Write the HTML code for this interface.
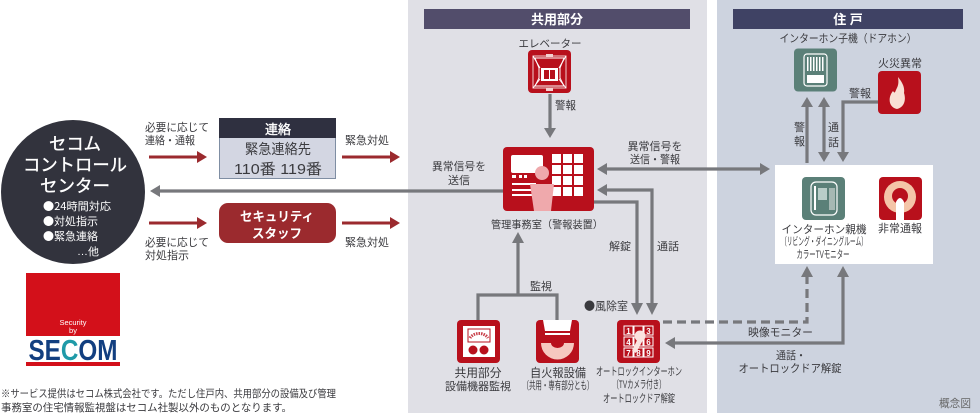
<!DOCTYPE html>
<html lang="ja"><head><meta charset="utf-8"><style>
html,body{margin:0;padding:0;background:#fff;width:980px;height:413px;overflow:hidden}
svg{display:block}
text{font-family:"Liberation Sans","Noto Sans CJK JP",sans-serif;fill:#3a3a3e}
.j{font-family:"Noto Sans CJK JP",sans-serif}
.c{text-anchor:middle}
.w{fill:#fff}
.b{stroke:#fff;stroke-width:.35}
</style></head><body>
<svg width="980" height="413" viewBox="0 0 980 413" xmlns="http://www.w3.org/2000/svg">
<rect x="408" y="0" width="299" height="413" fill="#e0e0e6"/>
<rect x="717" y="0" width="263" height="413" fill="#cdd3df"/>
<rect x="424" y="9" width="266" height="20" fill="#524d6b"/>
<rect x="733" y="9" width="230" height="20" fill="#3f4264"/>
<text class="c w" x="557" y="24" font-size="13" font-weight="700" textLength="52" lengthAdjust="spacingAndGlyphs">共用部分</text>
<text class="c w" x="848" y="24" font-size="13" font-weight="700">住 戸</text>

<!-- Left circle -->
<circle cx="73" cy="192" r="72" fill="#32333d"/>
<text class="c w b" x="75" y="150" font-size="17.500" textLength="52" lengthAdjust="spacingAndGlyphs">セコム</text>
<text class="c w b" x="75" y="171" font-size="17.500" textLength="104" lengthAdjust="spacingAndGlyphs">コントロール</text>
<text class="c w b" x="75" y="192" font-size="17.500" textLength="70" lengthAdjust="spacingAndGlyphs">センター</text>
<g font-size="11">
<text class="w j" x="43" y="210" textLength="68" lengthAdjust="spacingAndGlyphs">●24時間対応</text>
<text class="w j" x="43" y="225" textLength="55" lengthAdjust="spacingAndGlyphs">●対処指示</text>
<text class="w j" x="43" y="240" textLength="55" lengthAdjust="spacingAndGlyphs">●緊急連絡</text>
<text class="w" x="77" y="255" font-size="10.500" textLength="22" lengthAdjust="spacingAndGlyphs">…他</text>
</g>

<!-- 連絡 -->
<rect x="219.500" y="118.500" width="116" height="60" fill="#d3d6e2" stroke="#7f8ea3"/>
<rect x="219" y="118" width="117" height="20" fill="#2f3040"/>
<text class="c w b" x="278" y="134" font-size="13" textLength="26" lengthAdjust="spacingAndGlyphs">連絡</text>
<text class="c" x="278" y="154" font-size="14" textLength="66" lengthAdjust="spacingAndGlyphs">緊急連絡先</text>
<text class="c" x="278" y="174" font-size="15" textLength="88" lengthAdjust="spacingAndGlyphs">110番 119番</text>
<!-- Security staff -->
<rect x="219" y="203" width="117" height="40" rx="9" fill="#9b2a2e"/>
<text class="c w" x="277" y="221" font-size="13" font-weight="700" textLength="74" lengthAdjust="spacingAndGlyphs">セキュリティ</text>
<text class="c w" x="277" y="238" font-size="13" font-weight="700" textLength="50" lengthAdjust="spacingAndGlyphs">スタッフ</text>

<!-- labels -->
<g font-size="11">
<text x="145" y="131" textLength="64" lengthAdjust="spacingAndGlyphs">必要に応じて</text>
<text x="145" y="144" textLength="50" lengthAdjust="spacingAndGlyphs">連絡・通報</text>
<text x="345" y="144" textLength="44" lengthAdjust="spacingAndGlyphs">緊急対処</text>
<text x="145" y="246" textLength="64" lengthAdjust="spacingAndGlyphs">必要に応じて</text>
<text x="145" y="259" textLength="44" lengthAdjust="spacingAndGlyphs">対処指示</text>
<text x="345" y="246" textLength="44" lengthAdjust="spacingAndGlyphs">緊急対処</text>
<text class="c" x="459" y="170" textLength="54" lengthAdjust="spacingAndGlyphs">異常信号を</text>
<text class="c" x="459" y="184" textLength="22" lengthAdjust="spacingAndGlyphs">送信</text>
<text class="c" x="655" y="150" textLength="55" lengthAdjust="spacingAndGlyphs">異常信号を</text>
<text class="c" x="655" y="163" textLength="50" lengthAdjust="spacingAndGlyphs">送信・警報</text>
<text x="555" y="109" textLength="21" lengthAdjust="spacingAndGlyphs">警報</text>
<text x="609" y="250" textLength="22" lengthAdjust="spacingAndGlyphs">解錠</text>
<text x="657" y="250" textLength="22" lengthAdjust="spacingAndGlyphs">通話</text>
<text x="530" y="290" textLength="22" lengthAdjust="spacingAndGlyphs">監視</text>
<text class="j" x="584" y="310" font-size="11.500" textLength="44" lengthAdjust="spacingAndGlyphs">●風除室</text>
<text x="849" y="97" textLength="22" lengthAdjust="spacingAndGlyphs">警報</text>
<text x="748" y="336" font-size="11" textLength="65" lengthAdjust="spacingAndGlyphs">映像モニター</text>
<text class="c" x="791" y="359" textLength="30" lengthAdjust="spacingAndGlyphs">通話・</text>
<text class="c" x="790" y="372" textLength="103" lengthAdjust="spacingAndGlyphs">オートロックドア解錠</text>
<text x="939" y="407" textLength="32" lengthAdjust="spacingAndGlyphs" style="fill:#666">概念図</text>
</g>

<!-- red arrows -->
<g fill="none" stroke="#9b2a2e" stroke-width="3">
<path d="M149 157H198M342 157H391M149 223H198M342 223H391"/>
</g>
<g fill="#9b2a2e">
<path d="M197 151L207 157L197 163ZM390 151L400 157L390 163ZM197 217L207 223L197 229ZM390 217L400 223L390 229Z"/>
</g>

<!-- gray connectors -->
<g fill="none" stroke="#77787c" stroke-width="3.200">
<path d="M158 191H503"/>
<path d="M550 94V130"/>
<path d="M605 169H762"/>
<path d="M605 190H652V305"/>
<path d="M594 202H637V305"/>
<path d="M518 242V295M478 320V295H557V320"/>
<path d="M673 343H843V276"/>
<path d="M807 163V105"/>
<path d="M824 105V154"/>
<path d="M878 102H843V154"/>
<path d="M663 322H807V276" stroke-dasharray="9 5"/>
</g>
<g fill="#77787c">
<path d="M150 191L160 185V197Z"/>
<path d="M544 128H556L550 138Z"/>
<path d="M597 169L607 163V175ZM770 169L760 163V175Z"/>
<path d="M597 190L607 184V196Z"/>
<path d="M631 303H643L637 315ZM646 303H658L652 315Z"/>
<path d="M518 232L524 243H512Z"/>
<path d="M665 343L675 337V349Z"/>
<path d="M807 266L813 277H801ZM843 266L849 277H837Z"/>
<path d="M807 97L813 107H801ZM824 97L830 107H818ZM824 162L830 152H818ZM843 162L849 152H837Z"/>
</g>

<!-- Elevator -->
<text class="c" x="550" y="47" font-size="10.500" textLength="63" lengthAdjust="spacingAndGlyphs">エレベーター</text>
<rect x="528" y="50" width="43" height="43" rx="4" fill="#b8101c"/>
<g fill="none" stroke="#fff" stroke-width="1">
<path d="M535 58H564L560 68V78L564 86H535L539 78V68Z"/>
<path d="M533 56H566V88H533Z" stroke="#f0d0d0"/>
<path d="M533 56L540 68M566 56L559 68M533 88L540 79M566 88L559 79"/>
</g>
<rect x="541" y="68" width="17" height="13" fill="#fff"/>
<rect x="544" y="70" width="5" height="9" fill="#b8101c"/><rect x="550" y="70" width="5" height="9" fill="#b8101c"/>
<rect x="546" y="54" width="7" height="3" fill="#f3d0d0"/><rect x="546" y="88" width="7" height="3" fill="#f3d0d0"/>

<!-- Management -->
<rect x="503" y="147" width="91" height="64" rx="4" fill="#b8101c"/>
<rect x="511" y="155" width="32" height="18" rx="2" fill="#fff"/>
<g fill="#fff">
<rect x="552" y="154" width="9" height="9"/><rect x="563" y="154" width="9" height="9"/><rect x="574" y="154" width="9" height="9"/>
<rect x="552" y="165" width="9" height="9"/><rect x="563" y="165" width="9" height="9"/><rect x="574" y="165" width="9" height="9"/>
<rect x="552" y="176" width="9" height="9"/><rect x="563" y="176" width="9" height="9"/><rect x="574" y="176" width="9" height="9"/>
<rect x="552" y="187" width="9" height="9"/><rect x="563" y="187" width="9" height="9"/><rect x="574" y="187" width="9" height="9"/>
<rect x="512" y="175" width="4" height="3"/><rect x="519" y="175" width="3" height="3"/><rect x="524" y="175" width="3" height="3"/>
<rect x="512" y="183" width="24" height="2"/><rect x="512" y="189" width="22" height="2"/><rect x="512" y="194" width="22" height="2"/>
</g>
<circle cx="542" cy="173" r="7" fill="#efa9ac"/>
<path d="M530 184H554L551 211H534Z" fill="#efa9ac"/>
<text class="c" x="547" y="228" font-size="10.500" textLength="112" lengthAdjust="spacingAndGlyphs">管理事務室（警報装置）</text>

<!-- Monitor -->
<rect x="457" y="320" width="43" height="43" rx="4" fill="#b8101c"/>
<rect x="463" y="326" width="32" height="31" fill="#fff"/>
<rect x="468" y="329" width="22" height="13" fill="#fff" stroke="#b8101c" stroke-width="1"/>
<path d="M470 338A10 8 0 0 1 488 338" fill="none" stroke="#c8404a" stroke-width="3" stroke-dasharray="1.500 1"/>
<circle cx="473" cy="350" r="4.500" fill="#b8101c"/><circle cx="484" cy="350" r="4.500" fill="#b8101c"/>
<text class="c" x="478" y="377" font-size="12" textLength="47" lengthAdjust="spacingAndGlyphs">共用部分</text>
<text class="c" x="478" y="390" font-size="11" textLength="66" lengthAdjust="spacingAndGlyphs">設備機器監視</text>

<!-- Fire alarm -->
<rect x="536" y="320" width="43" height="43" rx="4" fill="#b8101c"/>
<path d="M543 320H572L570 331H545Z" fill="#fff"/>
<rect x="545" y="333" width="25" height="2" fill="#fff"/>
<path d="M541 343H574A16.500 16.500 0 0 1 541 343Z" fill="#f6c8c0"/>
<path d="M551 343H564A6.500 5 0 0 1 551 343Z" fill="#b8101c"/>
<text class="c" x="558" y="377" font-size="12" textLength="56" lengthAdjust="spacingAndGlyphs">自火報設備</text>
<text class="c" x="558" y="389" font-size="11" textLength="71" lengthAdjust="spacingAndGlyphs">（共用・専有部分とも）</text>

<!-- Autolock -->
<rect x="617" y="320" width="43" height="43" rx="4" fill="#b8101c"/>
<g fill="none" stroke="#fff" stroke-width="1">
<rect x="624" y="326" width="9" height="9"/><rect x="634" y="326" width="9" height="9"/><rect x="644" y="326" width="9" height="9"/>
<rect x="624" y="337" width="9" height="9"/><rect x="634" y="337" width="9" height="9"/><rect x="644" y="337" width="9" height="9"/>
<rect x="624" y="348" width="9" height="9"/><rect x="634" y="348" width="9" height="9"/><rect x="644" y="348" width="9" height="9"/>
</g>
<g class="c" font-size="8" font-weight="700">
<text class="c w" x="628.500" y="334">1</text><text class="c w" x="648.500" y="334">3</text>
<text class="c w" x="628.500" y="345">4</text><text class="c w" x="648.500" y="345">6</text>
<text class="c w" x="628.500" y="356">7</text><text class="c w" x="638.500" y="356">8</text><text class="c w" x="648.500" y="356">9</text>
</g>
<circle cx="640" cy="336" r="5.500" fill="#fbe3e0"/>
<path d="M638 338L632 351L636 353L643 340Z" fill="#fbe3e0"/>
<text class="c" x="639" y="375" font-size="11" textLength="86" lengthAdjust="spacingAndGlyphs">オートロックインターホン</text>
<text class="c" x="639" y="388" font-size="11" textLength="53" lengthAdjust="spacingAndGlyphs">（TVカメラ付き）</text>
<text class="c" x="639" y="402" font-size="11" textLength="72" lengthAdjust="spacingAndGlyphs">オートロックドア解錠</text>

<!-- Child unit -->
<text class="c" x="848" y="42" font-size="11" textLength="137" lengthAdjust="spacingAndGlyphs">インターホン子機（ドアホン）</text>
<rect x="794" y="48.500" width="43" height="43" rx="4" fill="#5b8078"/>
<rect x="804" y="54" width="23" height="32" rx="3" fill="none" stroke="#fff" stroke-width="1.200"/>
<g fill="#fff"><rect x="807" y="57" width="1.500" height="14"/><rect x="810" y="57" width="1.500" height="14"/><rect x="813" y="57" width="1.500" height="14"/><rect x="816" y="57" width="1.500" height="14"/><rect x="819" y="57" width="1.500" height="14"/><rect x="822" y="57" width="1.500" height="14"/>
<rect x="807" y="75" width="17" height="8"/></g>
<text x="878" y="67" font-size="11" textLength="44" lengthAdjust="spacingAndGlyphs">火災異常</text>
<rect x="878" y="71" width="43" height="43" rx="4" fill="#b8101c"/>
<path d="M897 109C888 107 888 97 893 91C895 94 895 92 896 90C898 86 899 84 898 77C902 82 905 87 904 93C906 99 905 107 897 109Z" fill="#f9e0d5"/>
<g font-size="11">
<text x="794" y="131">警</text>
<text x="794" y="145">報</text>
<text x="828" y="131">通</text>
<text x="828" y="146">話</text>
</g>

<!-- White box -->
<rect x="775" y="165" width="158" height="99" fill="#fff"/>
<rect x="802" y="177" width="43" height="43" rx="4" fill="#5b8078"/>
<rect x="811" y="182" width="26" height="33" rx="5" fill="none" stroke="#fff" stroke-width="1.200"/>
<rect x="818" y="188" width="9" height="12" fill="#b9cdc8"/>
<rect x="829" y="188" width="6" height="22" fill="#a6b8b3"/>
<rect x="814" y="186" width="2" height="24" fill="#fff"/>
<rect x="879" y="177" width="43" height="43" rx="4" fill="#b8101c"/>
<circle cx="900" cy="197" r="16" fill="#f4c5a8"/>
<circle cx="900" cy="196" r="8" fill="#b8101c"/>
<path d="M896 220V202Q900 194 904 202V220Z" fill="#fff"/>
<text class="c" x="824" y="233" font-size="11" textLength="85" lengthAdjust="spacingAndGlyphs">インターホン親機</text>
<text class="c" x="824" y="245" font-size="11" textLength="86" lengthAdjust="spacingAndGlyphs">（リビング・ダイニングルーム）</text>
<text class="c" x="823" y="258" font-size="11" textLength="53" lengthAdjust="spacingAndGlyphs">カラーTVモニター</text>
<text class="c" x="900" y="232" font-size="11" textLength="44" lengthAdjust="spacingAndGlyphs">非常通報</text>

<!-- Logo -->
<rect x="26" y="273" width="94" height="63" fill="#d3101a"/>
<text class="c w" x="73" y="325" font-size="7.500">Security</text>
<text class="c w" x="73" y="333" font-size="7.500">by</text>
<text class="c" x="73" y="360" font-size="29" font-weight="700" style="fill:#123f80" textLength="89" lengthAdjust="spacingAndGlyphs">SE<tspan style="fill:#1f9aa8">C</tspan>OM</text>
<rect x="26" y="362" width="94" height="4" fill="#d3101a"/>

<!-- Footnote -->
<text x="1" y="397" font-size="10.500" textLength="335" lengthAdjust="spacingAndGlyphs">※サービス提供はセコム株式会社です。ただし住戸内、共用部分の設備及び管理</text>
<text x="1" y="411" font-size="10.500" textLength="291" lengthAdjust="spacingAndGlyphs">事務室の住宅情報監視盤はセコム社製以外のものとなります。</text>
</svg>
</body></html>
